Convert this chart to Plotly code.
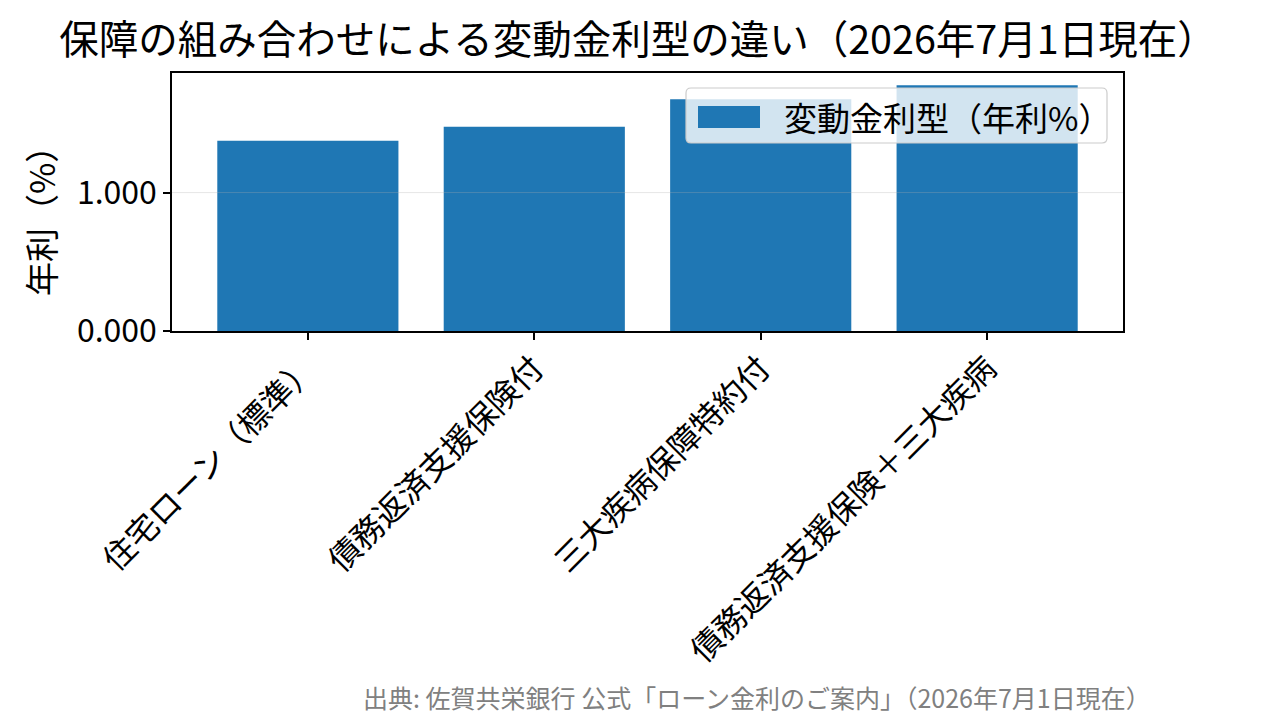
import plotly.graph_objects as go

categories = ["住宅ローン（標準）", "債務返済支援保険付", "三大疾病保障特約付", "債務返済支援保険＋三大疾病"]
rates = [1.375, 1.475, 1.675, 1.775]
series_name = "変動金利型（年利%）"
y_ticks = [0, 1]
title_text = "保障の組み合わせによる変動金利型の違い（2026年7月1日現在）"
y_title = "年利（%）"
source_text = "出典: 佐賀共栄銀行 公式「ローン金利のご案内」（2026年7月1日現在）"

FONT = "Noto Sans CJK JP"
OFF = 8  # page body margin
W, H = 1263, 725
L, T = 172 - OFF, 73 - OFF
PW, PH = 951, 258
R = W - L - PW
B = H - T - PH

def px_x(p):
    return (p - 172) / PW

def px_y(p):
    return (331 - p) / PH

fig = go.Figure()
fig.add_trace(go.Bar(
    x=list(range(len(categories))), y=rates, name=series_name,
    marker=dict(color="#1f77b4", line=dict(width=0)), width=0.8,
    showlegend=False,
))

ymax = max(rates) * 1.05

# legend drawn manually (matplotlib-like)
x0, x1 = px_x(686), px_x(1107)
y0, y1 = px_y(143), px_y(88)
rx, ry = 5 / PW, 5 / PH
path = (f"M {x0+rx},{y0} L {x1-rx},{y0} Q {x1},{y0} {x1},{y0+ry} "
        f"L {x1},{y1-ry} Q {x1},{y1} {x1-rx},{y1} L {x0+rx},{y1} "
        f"Q {x0},{y1} {x0},{y1-ry} L {x0},{y0+ry} Q {x0},{y0} {x0+rx},{y0} Z")
shapes = [
    dict(type="line", xref="paper", yref="y", x0=0, x1=1, y0=y_ticks[1], y1=y_ticks[1],
         line=dict(color="rgba(176,176,176,0.3)", width=1), layer="above"),
    dict(type="path", xref="paper", yref="paper", path=path,
         fillcolor="rgba(255,255,255,0.8)", line=dict(color="rgba(204,204,204,1)", width=1.2),
         layer="above"),
    dict(type="rect", xref="paper", yref="paper",
         x0=px_x(698), x1=px_x(760), y0=px_y(128), y1=px_y(106),
         fillcolor="#1f77b4", line=dict(width=0), layer="above"),
]

annotations = [
    dict(text=series_name, xref="paper", yref="paper", x=px_x(782), y=px_y(117),
         xanchor="left", yanchor="middle", showarrow=False,
         font=dict(family=FONT, size=33, color="black")),
    dict(text=y_title, xref="paper", yref="paper", x=px_x(40), y=px_y(213),
         xanchor="center", yanchor="middle", textangle=-90, showarrow=False,
         font=dict(family=FONT, size=34, color="black")),
    dict(text=source_text, xref="paper", yref="paper", x=px_x(1153), y=px_y(697),
         xanchor="right", yanchor="middle", showarrow=False,
         font=dict(family=FONT, size=25, color="#808080")),
]

fig.update_layout(
    width=W, height=H,
    margin=dict(l=L, r=R, t=T, b=B, autoexpand=False),
    paper_bgcolor="white", plot_bgcolor="white",
    title=dict(text=title_text, xref="container", yref="container",
               x=(638 - OFF) / W, y=1 - (40 - OFF) / H, xanchor="center", yanchor="middle",
               font=dict(family=FONT, size=39.5, color="black")),
    font=dict(family=FONT, color="black"),
    shapes=shapes, annotations=annotations,
    bargap=0.2,
)
fig.update_xaxes(
    range=[-0.6, len(categories) - 0.4],
    tickmode="array", tickvals=list(range(len(categories))), ticktext=categories,
    tickangle=-45, tickfont=dict(family=FONT, size=32, color="black"),
    ticklabelstandoff=-3, ticklabelshift=0,
    showline=True, mirror=True, linecolor="black", linewidth=1.5,
    ticks="outside", ticklen=7, tickwidth=1.5, tickcolor="black",
    showgrid=False, zeroline=False,
)
fig.update_yaxes(
    range=[0, ymax],
    tickmode="array", tickvals=y_ticks, tickformat=".3f",
    tickfont=dict(family=FONT, size=32, color="black"),
    showline=True, mirror=True, linecolor="black", linewidth=1.5,
    ticks="outside", ticklen=7, tickwidth=1.5, tickcolor="black",
    showgrid=False, zeroline=False,
)

fig.write_html("out.html")
